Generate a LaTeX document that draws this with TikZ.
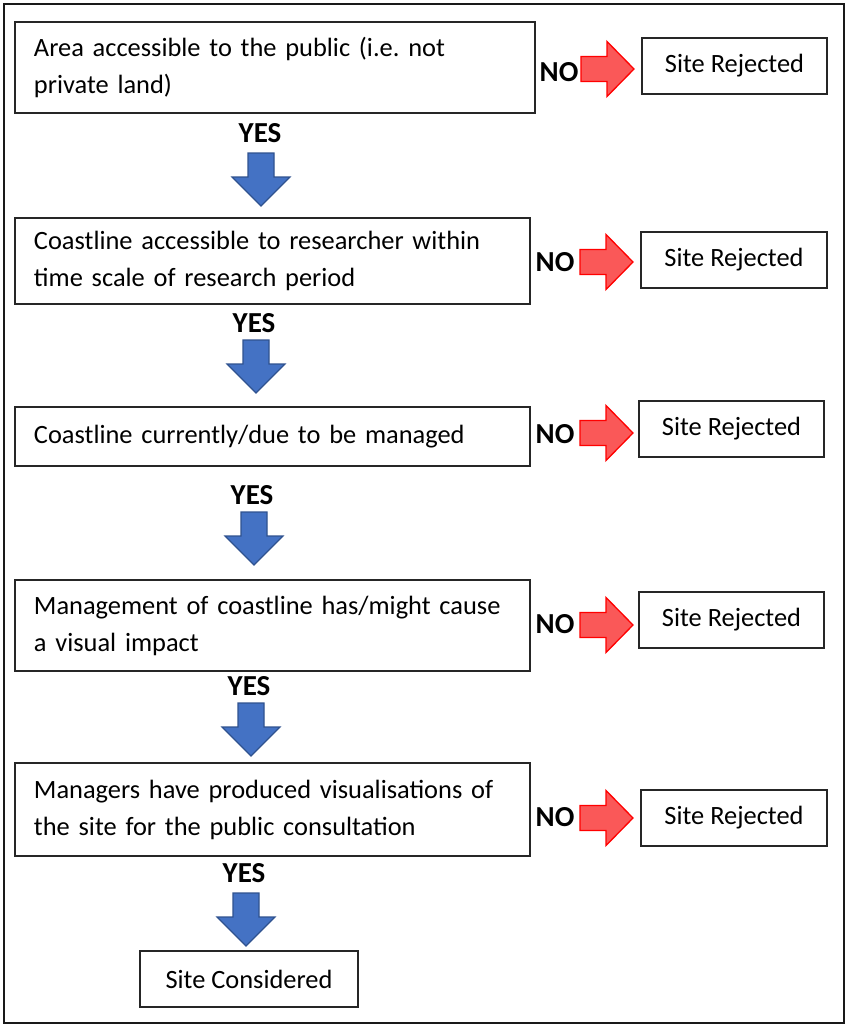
\documentclass[tikz,border=0pt]{standalone}
\usepackage{fontspec}
\setmainfont{Carlito}
\frenchspacing

\definecolor{arrowblue}{RGB}{68,114,196}
\definecolor{arrowblueedge}{RGB}{47,82,143}
\definecolor{arrowred}{RGB}{250,88,88}
\definecolor{arrowrededge}{RGB}{255,0,0}

\tikzset{
  question/.style={draw=black!85, line width=1.3pt, inner xsep=19pt, inner ysep=0pt,
    align=left, anchor=center, font=\fontsize{26.4}{37}\selectfont},
  outcome/.style={draw=black!85, line width=1.3pt, inner sep=0pt, align=center,
    font=\fontsize{26.4}{37}\selectfont},
  answer/.style={font=\fontsize{29}{32}\selectfont\bfseries, inner sep=0pt},
  bluearrow/.style={fill=arrowblue, draw=arrowblueedge, line width=1.2pt, line join=miter},
  redarrow/.style={fill=arrowred, draw=arrowrededge, line width=1.3pt, line join=miter},
  yesarrow/.pic={\path[bluearrow] (-13,0) -- (13,0) -- (13,24) -- (29,24) -- (0,53)
      -- (-29,24) -- (-13,24) -- cycle;},
  noarrow/.pic={\path[redarrow] (0,-12.5) -- (26,-12.5) -- (26,-27.5) -- (53,0)
      -- (26,27.5) -- (26,12.5) -- (0,12.5) -- cycle;}
}

\begin{document}
\begin{tikzpicture}[x=1pt, y=-1pt]
  \useasboundingbox (0,0) rectangle (848,1026);
  % outer frame
  \draw[line width=2pt, black!90] (4,4) rectangle (844,1023);

  % criteria
  \node[question, text width=482pt, minimum height=91pt] (q1) at (275,67.5)
    {Area accessible to the public (i.e. not\\private land)};
  \node[question, text width=477pt, minimum height=86pt] (q2) at (272.5,261)
    {Coastline accessible to researcher within\\time scale of research period};
  \node[question, text width=477pt, minimum height=59pt] (q3) at (272.5,436.5)
    {Coastline currently/due to be managed};
  \node[question, text width=477pt, minimum height=91pt] (q4) at (272.5,625.5)
    {Management of coastline has/might cause\\a visual impact};
  \node[question, text width=477pt, minimum height=93pt] (q5) at (272.5,809.5)
    {Managers have produced visualisations of\\the site for the public consultation};

  % rejections
  \node[outcome, minimum width=185pt, minimum height=56pt] (r1) at (734.5,66) {Site Rejected};
  \node[outcome, minimum width=186pt, minimum height=56pt] (r2) at (734,260) {Site Rejected};
  \node[outcome, minimum width=185pt, minimum height=56pt] (r3) at (731.5,429) {Site Rejected};
  \node[outcome, minimum width=185pt, minimum height=56pt] (r4) at (731.5,620) {Site Rejected};
  \node[outcome, minimum width=186pt, minimum height=56pt] (r5) at (734,818) {Site Rejected};

  % final outcome
  \node[outcome, minimum width=218pt, minimum height=56pt] (ok) at (249,979) {Site Considered};

  % NO branches
  \node[answer] (n1) at (559,72) {NO};
  \node[answer] (n2) at (555,262) {NO};
  \node[answer] (n3) at (555,434) {NO};
  \node[answer] (n4) at (555,624) {NO};
  \node[answer] (n5) at (555,817) {NO};
  \pic at (581,69) {noarrow};
  \pic at (580,262) {noarrow};
  \pic at (580,433) {noarrow};
  \pic at (580,625) {noarrow};
  \pic at (580,818) {noarrow};

  % YES branches
  \node[answer] (y1) at (260,133) {YES};
  \node[answer] (y2) at (254,323) {YES};
  \node[answer] (y3) at (252,495) {YES};
  \node[answer] (y4) at (249,686) {YES};
  \node[answer] (y5) at (244,873) {YES};
  \pic at (261,153) {yesarrow};
  \pic at (256,340) {yesarrow};
  \pic at (254,512) {yesarrow};
  \pic at (251,703) {yesarrow};
  \pic at (246,893) {yesarrow};
\end{tikzpicture}
\end{document}
